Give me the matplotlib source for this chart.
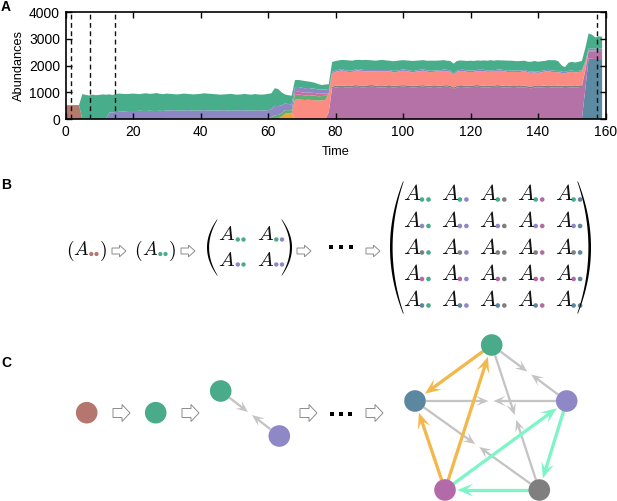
import matplotlib
matplotlib.use('Agg')
import matplotlib.pyplot as plt
import numpy as np
from matplotlib.patches import Circle, Polygon

plt.rcParams['font.family'] = ['Liberation Sans', 'DejaVu Sans']
plt.rcParams['mathtext.fontset'] = 'cm'

# ---------------- Panel A data ----------------
N = 160
time = list(range(N))


def seg(start, vals):
    out = [0] * N
    for i, v in enumerate(vals):
        out[start + i] = v
    return out


# late-phase (t = 80..153) layer thicknesses
magenta_late = [1180, 1190, 1200, 1180, 1170, 1190, 1210, 1200, 1180, 1190,
                1200, 1210, 1190, 1180, 1170, 1190, 1200, 1180, 1190, 1200,
                1210, 1200, 1190, 1180, 1190, 1200, 1210, 1190, 1180, 1200,
                1190, 1180, 1200, 1210, 1190, 1120, 1180, 1200, 1190, 1180,
                1190, 1200, 1210, 1190, 1180, 1170, 1190, 1200, 1210, 1190,
                1180, 1170, 1190, 1200, 1180, 1170, 1190, 1160, 1150, 1180,
                1170, 1180, 1190, 1200, 1180, 1170, 1190, 1180, 1200, 1190,
                1180, 1170, 1190, 1200]
grey_late = [60, 60, 55, 60, 65, 60, 60, 55, 60, 60,
             65, 60, 60, 55, 60, 60, 65, 60, 60, 60,
             55, 60, 60, 65, 60, 60, 55, 60, 60, 60,
             65, 60, 60, 55, 60, 60, 60, 65, 60, 60,
             55, 60, 60, 60, 65, 60, 60, 55, 60, 60,
             60, 65, 60, 60, 55, 60, 60, 60, 65, 60,
             60, 55, 60, 60, 60, 65, 60, 60, 55, 60,
             60, 60, 65, 60]
salmon_late = [520, 540, 560, 530, 520, 510, 540, 560, 550, 530,
               520, 510, 530, 540, 550, 530, 520, 510, 500, 520,
               540, 530, 510, 500, 520, 530, 540, 520, 510, 500,
               520, 530, 540, 520, 510, 470, 520, 530, 540, 520,
               510, 500, 520, 540, 550, 530, 520, 510, 530, 550,
               540, 520, 510, 500, 520, 530, 540, 520, 510, 500,
               490, 510, 520, 530, 520, 520, 500, 480, 450, 500,
               520, 510, 500, 510]
purple_late = [50, 50, 55, 50, 45, 50, 50, 55, 50, 50,
               45, 50, 50, 55, 50, 50, 45, 50, 50, 50,
               55, 50, 50, 45, 50, 50, 55, 50, 50, 50,
               45, 50, 50, 55, 50, 50, 50, 45, 50, 50,
               55, 50, 50, 50, 45, 50, 50, 55, 50, 50,
               50, 45, 50, 50, 55, 50, 50, 50, 45, 50,
               50, 55, 50, 50, 50, 45, 50, 50, 55, 50,
               50, 50, 45, 50]
green_late = [360, 350, 340, 380, 390, 370, 350, 340, 360, 380,
              370, 360, 350, 370, 380, 360, 350, 360, 370, 360,
              340, 350, 370, 380, 360, 350, 340, 360, 380, 370,
              360, 370, 350, 340, 360, 370, 360, 350, 340, 360,
              370, 360, 350, 340, 350, 370, 380, 360, 350, 340,
              360, 380, 370, 360, 350, 360, 340, 350, 370, 380,
              370, 360, 350, 360, 390, 400, 360, 230, 180, 300,
              330, 320, 340, 350]

brown = seg(0, [520, 515, 520, 520, 520])
teal = seg(154, [1100, 2260, 2250, 2240, 2240, 2240])
magenta = seg(30, [20, 20, 20, 20, 20, 20, 20, 20, 20, 20,
                   20, 20, 20, 20, 20, 20, 20, 20, 20, 20,
                   20, 20, 20, 20, 20, 20, 20, 20, 20, 20,
                   20, 20, 20, 20, 20, 20, 10,
                   0, 0, 0, 0, 0, 0, 0, 0, 0, 0, 0,
                   250, 1150] + magenta_late + [700, 270, 280, 290, 300, 300])
grey = seg(78, [10, 60] + grey_late + [30, 30, 30, 30, 30, 30])
orange = seg(64, [60, 180, 200, 220])
salmon = seg(68, [720, 730, 720, 710, 720, 710, 700, 690, 700, 710,
                  700, 500] + salmon_late + [250])
green2 = seg(61, [50, 120, 130, 130, 130, 120, 110,
                  180, 180, 180, 170, 170, 170, 170, 160, 160, 160])
magenta2 = seg(68, [110, 110, 100, 100, 100, 100, 100, 90, 90, 90])
purple = seg(13, [240, 250, 260, 270, 280, 290, 300, 300, 300, 310,
                  300, 300, 310, 300, 300, 310, 300,
                  300, 300, 310, 300, 290, 300, 310, 300, 300, 290,
                  300, 310, 300, 300, 290, 300, 300, 310, 300, 290,
                  300, 300, 310, 300, 300, 290, 300, 310, 300, 300, 310,
                  300, 350, 330, 300, 250, 230, 220,
                  180, 180, 170, 170, 170, 160, 160, 160, 150, 150,
                  120, 50] + purple_late + [60, 70, 70, 70, 70, 70])
green = seg(5, [930, 900, 880, 910, 890, 900, 920, 910,
                680, 650, 680, 680, 660, 640, 640, 650, 640, 620,
                650, 660, 630, 650, 670, 630, 630,
                630, 620, 600, 600, 620, 630, 610, 610, 600, 620,
                620, 630, 630, 620, 620, 600, 590, 590, 610, 630,
                600, 590, 590, 620, 600, 600, 610, 590, 590, 600, 610,
                590, 660, 640, 490, 340, 330, 320,
                265, 260, 270, 270, 240, 240, 220, 200, 170, 180,
                220, 370] + green_late + [500, 570, 520, 420, 450, 440])

layers = [brown, teal, magenta, grey, orange, salmon, green2, magenta2, purple, green]
layer_colors = ['#b57a6e', '#5b8aa2', '#b572a6', '#7e7e7e', '#e5a83b', '#fc8b81',
                '#62ad72', '#cf6a9c', '#8d87c4', '#48ad8b']
event_times = [1.7, 7.3, 14.8, 157.4]

# ---------------- Panel B / C data ----------------
col = {'brown': '#b5776d', 'green': '#4aab8a', 'purple': '#8e88c6',
       'grey': '#7f7f7f', 'magenta': '#b36aa8', 'teal': '#5b87a0'}
matrix_species = ['green', 'purple', 'grey', 'magenta', 'teal']
pair_species = ['green', 'purple']

# pentagon node positions (figure pixel coordinates)
pent_pos = {'green': (491.7, 345), 'teal': (415, 401), 'purple': (566.7, 401),
            'magenta': (445, 490), 'grey': (539.3, 490)}
chain_pos = [('brown', (86.7, 412.7)), ('green', (155.7, 412.7))]
pair_pos = {'green': (220.7, 391), 'purple': (279.3, 436)}
grey_pairs = [('green', 'purple'), ('teal', 'purple'), ('green', 'grey'), ('teal', 'grey')]
orange_edges = [('green', 'teal'), ('magenta', 'teal'), ('magenta', 'green')]
aqua_edges = [('magenta', 'purple'), ('purple', 'grey'), ('grey', 'magenta')]

# ---------------- Figure ----------------
fig = plt.figure(figsize=(6.17, 5.01), dpi=100)

ov = fig.add_axes([0, 0, 1, 1])
ov.set_xlim(0, 617)
ov.set_ylim(501, 0)
ov.axis('off')

ax = fig.add_axes([65.5 / 617, 1 - 119 / 501, (605.5 - 65.5) / 617, (119 - 12) / 501])
ax.stackplot(time, *layers, colors=layer_colors, linewidth=0, edgecolor='none')
for t in event_times:
    ax.axvline(t, color='#111111', lw=1.0, ls=(0, (3.5, 2.5)), zorder=3)
ax.set_xlim(0, 160)
ax.set_ylim(0, 4000)
ax.set_xticks(range(0, 161, 20))
ax.set_yticks(range(0, 4001, 1000))
ax.tick_params(direction='in', top=True, right=True, length=4, width=1.0,
               labelsize=10, pad=4)
for s in ax.spines.values():
    s.set_linewidth(1.2)
ax.set_xlabel('Time', fontsize=9.2, labelpad=5)
ax.set_ylabel('Abundances', fontsize=9.2, labelpad=3)

# panel letters
fig.text(1 / 617, 1 - 7 / 501, 'A', fontsize=10, fontweight='bold', va='center', ha='left')
fig.text(1 / 617, 1 - 185 / 501, 'B', fontsize=10, fontweight='bold', va='center', ha='left')
fig.text(1 / 617, 1 - 363 / 501, 'C', fontsize=10, fontweight='bold', va='center', ha='left')


def hollow_arrow(x0, y, L, hh, bh, hl):
    xh = x0 + L - hl
    pts = [(x0, y - bh), (xh, y - bh), (xh, y - hh), (x0 + L, y),
           (xh, y + hh), (xh, y + bh), (x0, y + bh)]
    ov.add_patch(Polygon(pts, closed=True, fc='white', ec='#8c8c8c', lw=0.7))


def paren(xend, ymid, h, w, t1, t0, side):
    s = np.linspace(-1, 1, 60)
    y = ymid + s * h / 2
    bulge = (1 - s ** 2)
    thick = t0 + (t1 - t0) * bulge
    if side == 'left':
        xo = xend - w * bulge
        xi = xo + thick
    else:
        xo = xend + w * bulge
        xi = xo - thick
    pts = list(zip(xo, y)) + list(zip(xi[::-1], y[::-1]))
    ov.add_patch(Polygon(pts, closed=True, fc='black', ec='none'))


def entry(xc, yb, fs, c1, c2, d1, d2, r):
    ov.text(xc, yb, r'$A$', fontsize=fs, ha='center', va='baseline', color='#111111')
    ov.add_patch(Circle((xc + d1, yb - 1), r, fc=col[c1], ec='none'))
    ov.add_patch(Circle((xc + d2, yb - 1), r, fc=col[c2], ec='none'))


# ---- Panel B ----
# singles: (left paren centre, A centre, right paren centre)
for (xl, xA, xr, sp) in [(70.0, 81.5, 103, 'brown'), (138.5, 150.5, 171.5, 'green')]:
    ov.text(xl, 256, r'$($', fontsize=14, ha='center', va='baseline')
    entry(xA, 255, 14, sp, sp, 9.8, 15, 2.1)
    ov.text(xr, 256, r'$)$', fontsize=14, ha='center', va='baseline')

# 2x2
for i, si in enumerate(pair_species):
    for j, sj in enumerate(pair_species):
        entry(227 + 38.5 * j, 240.5 + 25 * i, 15, si, sj, 10.8, 16.5, 2.2)
paren(217, 247.5, 56, 10, 2.1, 0.6, 'left')
paren(282, 247.5, 56, 10, 2.1, 0.6, 'right')

# 5x5
for i, si in enumerate(matrix_species):
    for j, sj in enumerate(matrix_species):
        entry(412.5 + 37.9 * j, 200.5 + 26.5 * i, 16, si, sj, 9.5, 16, 2.3)
paren(403, 247.5, 132, 13, 2.6, 0.7, 'left')
paren(578, 247.5, 132, 13, 2.6, 0.7, 'right')

for x0 in [112, 181, 297, 366]:
    hollow_arrow(x0, 251, 14, 5.8, 3.0, 6.5)
for x in [331, 341, 351]:
    ov.add_patch(Polygon([(x - 2, 245), (x + 2, 245), (x + 2, 249), (x - 2, 249)],
                         closed=True, fc='black', ec='none'))

# ---- Panel C ----
R = 10.8


def stealth_arrow(p0, p1, color, lw_px, hl, hw, s0, s1, z=2):
    p0 = np.array(p0, float)
    p1 = np.array(p1, float)
    d = p1 - p0
    u = d / np.hypot(*d)
    n = np.array([-u[1], u[0]])
    tip = p1 - u * s1
    start = p0 + u * s0
    notch = tip - u * hl * 0.55
    ov.plot([start[0], notch[0] + u[0]], [start[1], notch[1] + u[1]], color=color,
            lw=lw_px * 0.72, solid_capstyle='butt', zorder=z)
    back = tip - u * hl
    pts = [tip, back + n * hw / 2, notch, back - n * hw / 2]
    ov.add_patch(Polygon(pts, closed=True, fc=color, ec='none', zorder=z))


def half_pair(pa, pb, color, lw_px, hl, hw, gap):
    pa = np.array(pa, float)
    pb = np.array(pb, float)
    mid = (pa + pb) / 2
    d = pb - pa
    u = d / np.hypot(*d)
    stealth_arrow(pa, mid - u * gap, color, lw_px, hl, hw, R, 0)
    stealth_arrow(pb, mid + u * gap, color, lw_px, hl, hw, R, 0)


for x0 in [113, 182, 300, 366]:
    hollow_arrow(x0, 413, 17, 8.5, 4.5, 8)
for x in [332, 341, 350]:
    ov.add_patch(Polygon([(x - 2, 412), (x + 2, 412), (x + 2, 416), (x - 2, 416)],
                         closed=True, fc='black', ec='none'))

for sp, p in chain_pos:
    ov.add_patch(Circle(p, R, fc=col[sp], ec='none', zorder=5))

half_pair(pair_pos['green'], pair_pos['purple'], '#c4c4c4', 2.3, 12, 10, 2.5)
for sp, p in pair_pos.items():
    ov.add_patch(Circle(p, R, fc=col[sp], ec='none', zorder=5))

for a, b in grey_pairs:
    half_pair(pent_pos[a], pent_pos[b], '#c4c4c4', 2.3, 12, 10, 2.5)
for a, b in orange_edges:
    stealth_arrow(pent_pos[a], pent_pos[b], '#f3b84b', 3.3, 16, 13, 0, R + 1.5, z=3)
for a, b in aqua_edges:
    stealth_arrow(pent_pos[a], pent_pos[b], '#7ef5c6', 3.3, 16, 13, 0, R + 1.5, z=3)
for sp, p in pent_pos.items():
    ov.add_patch(Circle(p, R, fc=col[sp], ec='none', zorder=5))

fig.savefig('out.png', dpi=100)
